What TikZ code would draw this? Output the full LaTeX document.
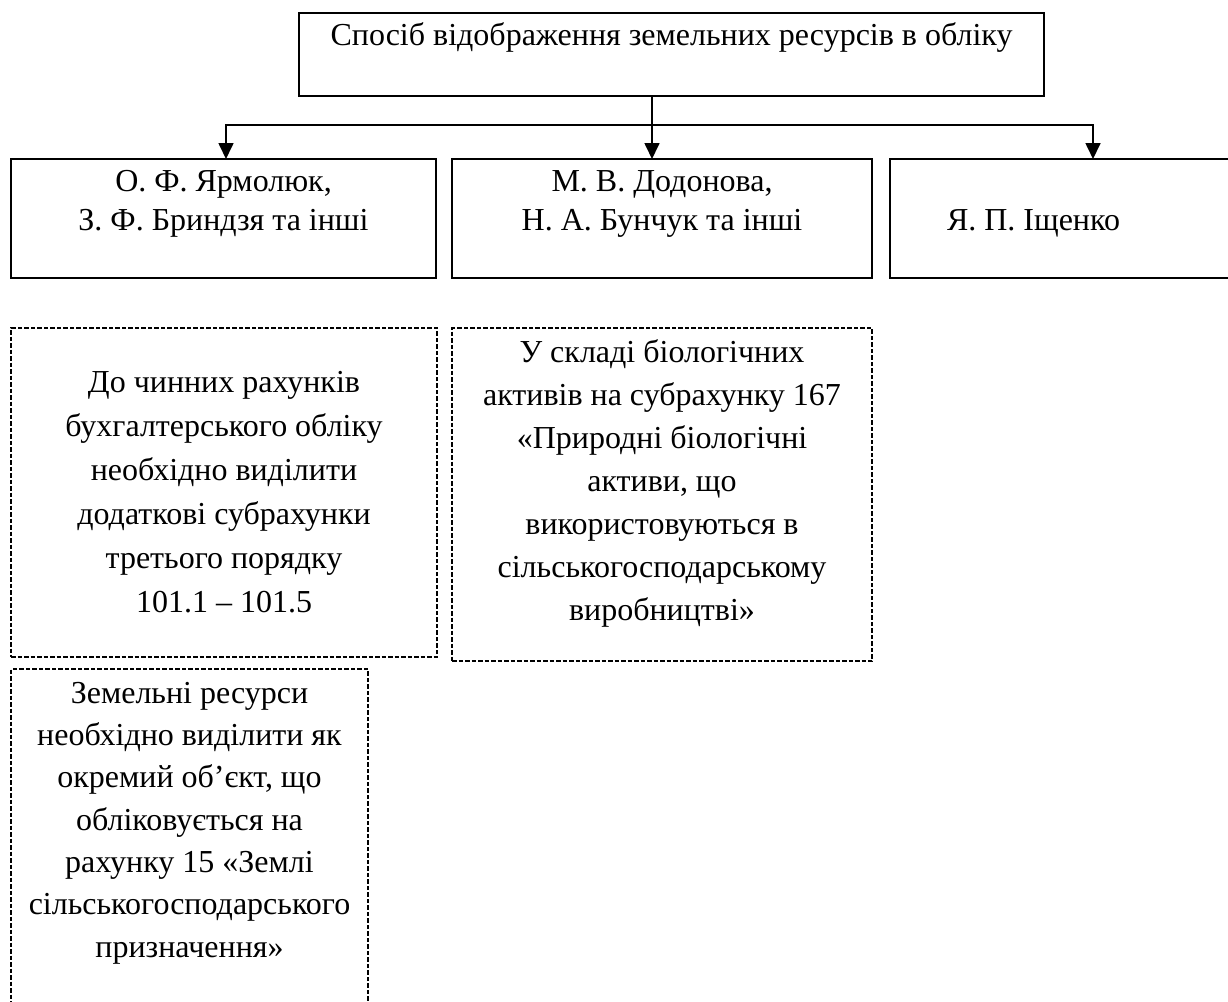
\documentclass[tikz,border=0pt]{standalone}
\usepackage{fontspec}
\setmainfont{Liberation Serif}
\usetikzlibrary{arrows.meta}
% #1 width, #2 height, #3 baselineskip, #4 top space, #5 text
\newcommand\bxt[5]{\parbox[t][#2][t]{#1}{\fontsize{32}{#3}\selectfont\vspace*{#4}\centering\strut #5\par}}
\tikzset{
  solidbox/.style={draw, line width=1.7pt, inner sep=0pt, outer sep=0pt, anchor=north west},
  dashbox/.style={draw, line width=1.5pt, dash pattern=on 4.5pt off 2pt, inner sep=0pt, outer sep=0pt, anchor=north west},
  conn/.style={line width=1.7pt},
  arr/.style={line width=1.7pt, -{Triangle[width=15pt,length=16pt]}}
}
\begin{document}
\begin{tikzpicture}[x=1pt,y=-1pt]
\useasboundingbox (0,0) rectangle (1228,1001);
% top box
\node[solidbox] (top) at (299,13) {\bxt{745pt}{83pt}{39pt}{4.7pt}{Спосіб відображення земельних ресурсів в обліку}};
% second row
\node[solidbox] (b1) at (11,159) {\bxt{425pt}{119pt}{39pt}{4.7pt}{О. Ф. Ярмолюк,\\ З. Ф. Бриндзя та інші}};
\node[solidbox] (b2) at (452,159) {\bxt{420pt}{119pt}{39pt}{4.7pt}{М. В. Додонова,\\ Н. А. Бунчук та інші}};
\node[solidbox] (b3) at (890,159) {\parbox[t][119pt][t]{350pt}{\fontsize{32}{39}\selectfont\vspace*{43.7pt}\hspace*{57pt}\strut Я. П. Іщенко\par}};
% dashed boxes
\node[dashbox] (d1) at (11,328) {\bxt{426pt}{329pt}{44pt}{34pt}{До чинних рахунків\\ бухгалтерського обліку\\ необхідно виділити\\ додаткові субрахунки\\ третього порядку\\ 101.1 – 101.5}};
\node[dashbox] (d2) at (452,328) {\bxt{420pt}{333pt}{43pt}{4pt}{У складі біологічних\\ активів на субрахунку 167\\ «Природні біологічні\\ активи, що\\ використовуються в\\ сільськогосподарському\\ виробництві»}};
\node[dashbox] (d3) at (11,669) {\bxt{357pt}{345pt}{42.3pt}{4.6pt}{Земельні ресурси\\ необхідно виділити як\\ окремий об’єкт, що\\ обліковується на\\ рахунку 15 «Землі\\ сільськогосподарського\\ призначення»}};
% connectors
\coordinate (j) at (652,125);
\coordinate (jl) at (226,125);
\coordinate (jr) at (1093,125);
\draw[conn] (top.south -| j) -- (j);
\draw[arr] (j) -- (jl) -- (jl |- b1.north);
\draw[arr] (j) -- (jr) -- (jr |- b3.north);
\draw[arr] (j) -- (j |- b2.north);
\end{tikzpicture}
\end{document}
